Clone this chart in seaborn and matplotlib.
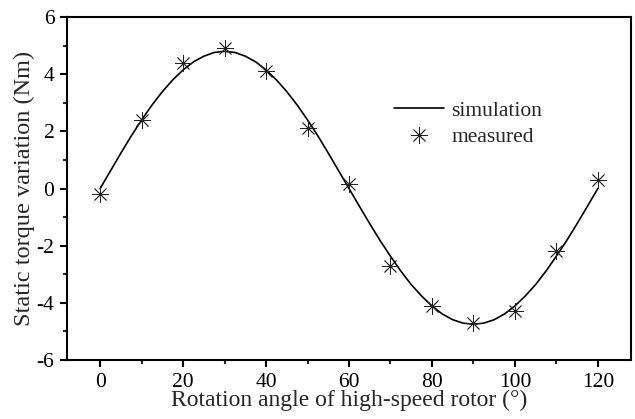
import matplotlib
matplotlib.use("Agg")
import matplotlib.pyplot as plt
import seaborn as sns
import pandas as pd
from matplotlib.ticker import MultipleLocator

# simulation curve
sim_angle = [0, 2.5, 5, 7.5, 10, 12.5, 15, 17.5, 20, 22.5, 25, 27.5, 30, 32.5, 35, 37.5,
             40, 42.5, 45, 47.5, 50, 52.5, 55, 57.5, 60, 62.5, 65, 67.5, 70, 72.5, 75,
             77.5, 80, 82.5, 85, 87.5, 90, 92.5, 95, 97.5, 100, 102.5, 105, 107.5, 110,
             112.5, 115, 117.5, 120]
sim_torque = [0.0, 0.62, 1.24, 1.84, 2.40, 2.92, 3.39, 3.80, 4.15, 4.43, 4.63, 4.76, 4.80,
              4.76, 4.63, 4.43, 4.15, 3.80, 3.39, 2.92, 2.40, 1.84, 1.24, 0.62, 0.0,
              -0.62, -1.23, -1.82, -2.37, -2.89, -3.36, -3.76, -4.11, -4.39, -4.59, -4.71,
              -4.75, -4.71, -4.59, -4.39, -4.11, -3.76, -3.36, -2.89, -2.37, -1.82, -1.23,
              -0.62, 0.0]

# measured points
meas_angle = [0, 10, 20, 30, 40, 50, 60, 70, 80, 90, 100, 110, 120]
meas_torque = [-0.2, 2.4, 4.4, 4.9, 4.1, 2.1, 0.15, -2.7, -4.1, -4.7, -4.3, -2.2, 0.3]

x_ticks = [0, 20, 40, 60, 80, 100, 120]
y_ticks = [-6, -4, -2, 0, 2, 4, 6]

sns.set_theme(style="ticks")
plt.rcParams['font.family'] = ['Liberation Serif', 'DejaVu Serif']
plt.rcParams['axes.unicode_minus'] = False

fig = plt.figure(figsize=(6.35, 4.19), dpi=100)
ax = fig.add_axes([0.1055, 0.1408, 0.8882, 0.8186])

sim_df = pd.DataFrame({"angle": sim_angle, "torque": sim_torque})
meas_df = pd.DataFrame({"angle": meas_angle, "torque": meas_torque})

sns.lineplot(data=sim_df, x="angle", y="torque", ax=ax, color="black", linewidth=1.2,
             label="simulation", sort=False)
sns.lineplot(data=meas_df, x="angle", y="torque", ax=ax, color="#222222", linestyle="none",
             marker=(8, 2, 0), markersize=12, markeredgewidth=0.6, markeredgecolor="#222222",
             label="measured", sort=False)

ax.set_xlim(-8, 128)
ax.set_ylim(-6, 6)
ax.set_xticks(x_ticks)
ax.set_yticks(y_ticks)
ax.xaxis.set_minor_locator(MultipleLocator(10))
ax.yaxis.set_minor_locator(MultipleLocator(1))

for s in ax.spines.values():
    s.set_linewidth(1.5)
    s.set_color("black")
ax.tick_params(which="major", direction="out", length=5, width=1.5, labelsize=15.5,
               colors="black", top=False, right=False, pad=4)
ax.tick_params(which="minor", direction="out", length=3, width=1.5, top=False, right=False)

ax.set_xlabel("Rotation angle of high-speed rotor (°)", fontsize=17, labelpad=-1)
ax.set_ylabel("Static torque variation (Nm)", fontsize=17.5, labelpad=1)

leg = ax.legend(loc="center left", bbox_to_anchor=(0.58, 0.688), frameon=False,
                fontsize=15.5, handlelength=2.3, handletextpad=0.35, labelspacing=0.3,
                borderpad=0, borderaxespad=0)

fig.savefig("out.png", dpi=100)
